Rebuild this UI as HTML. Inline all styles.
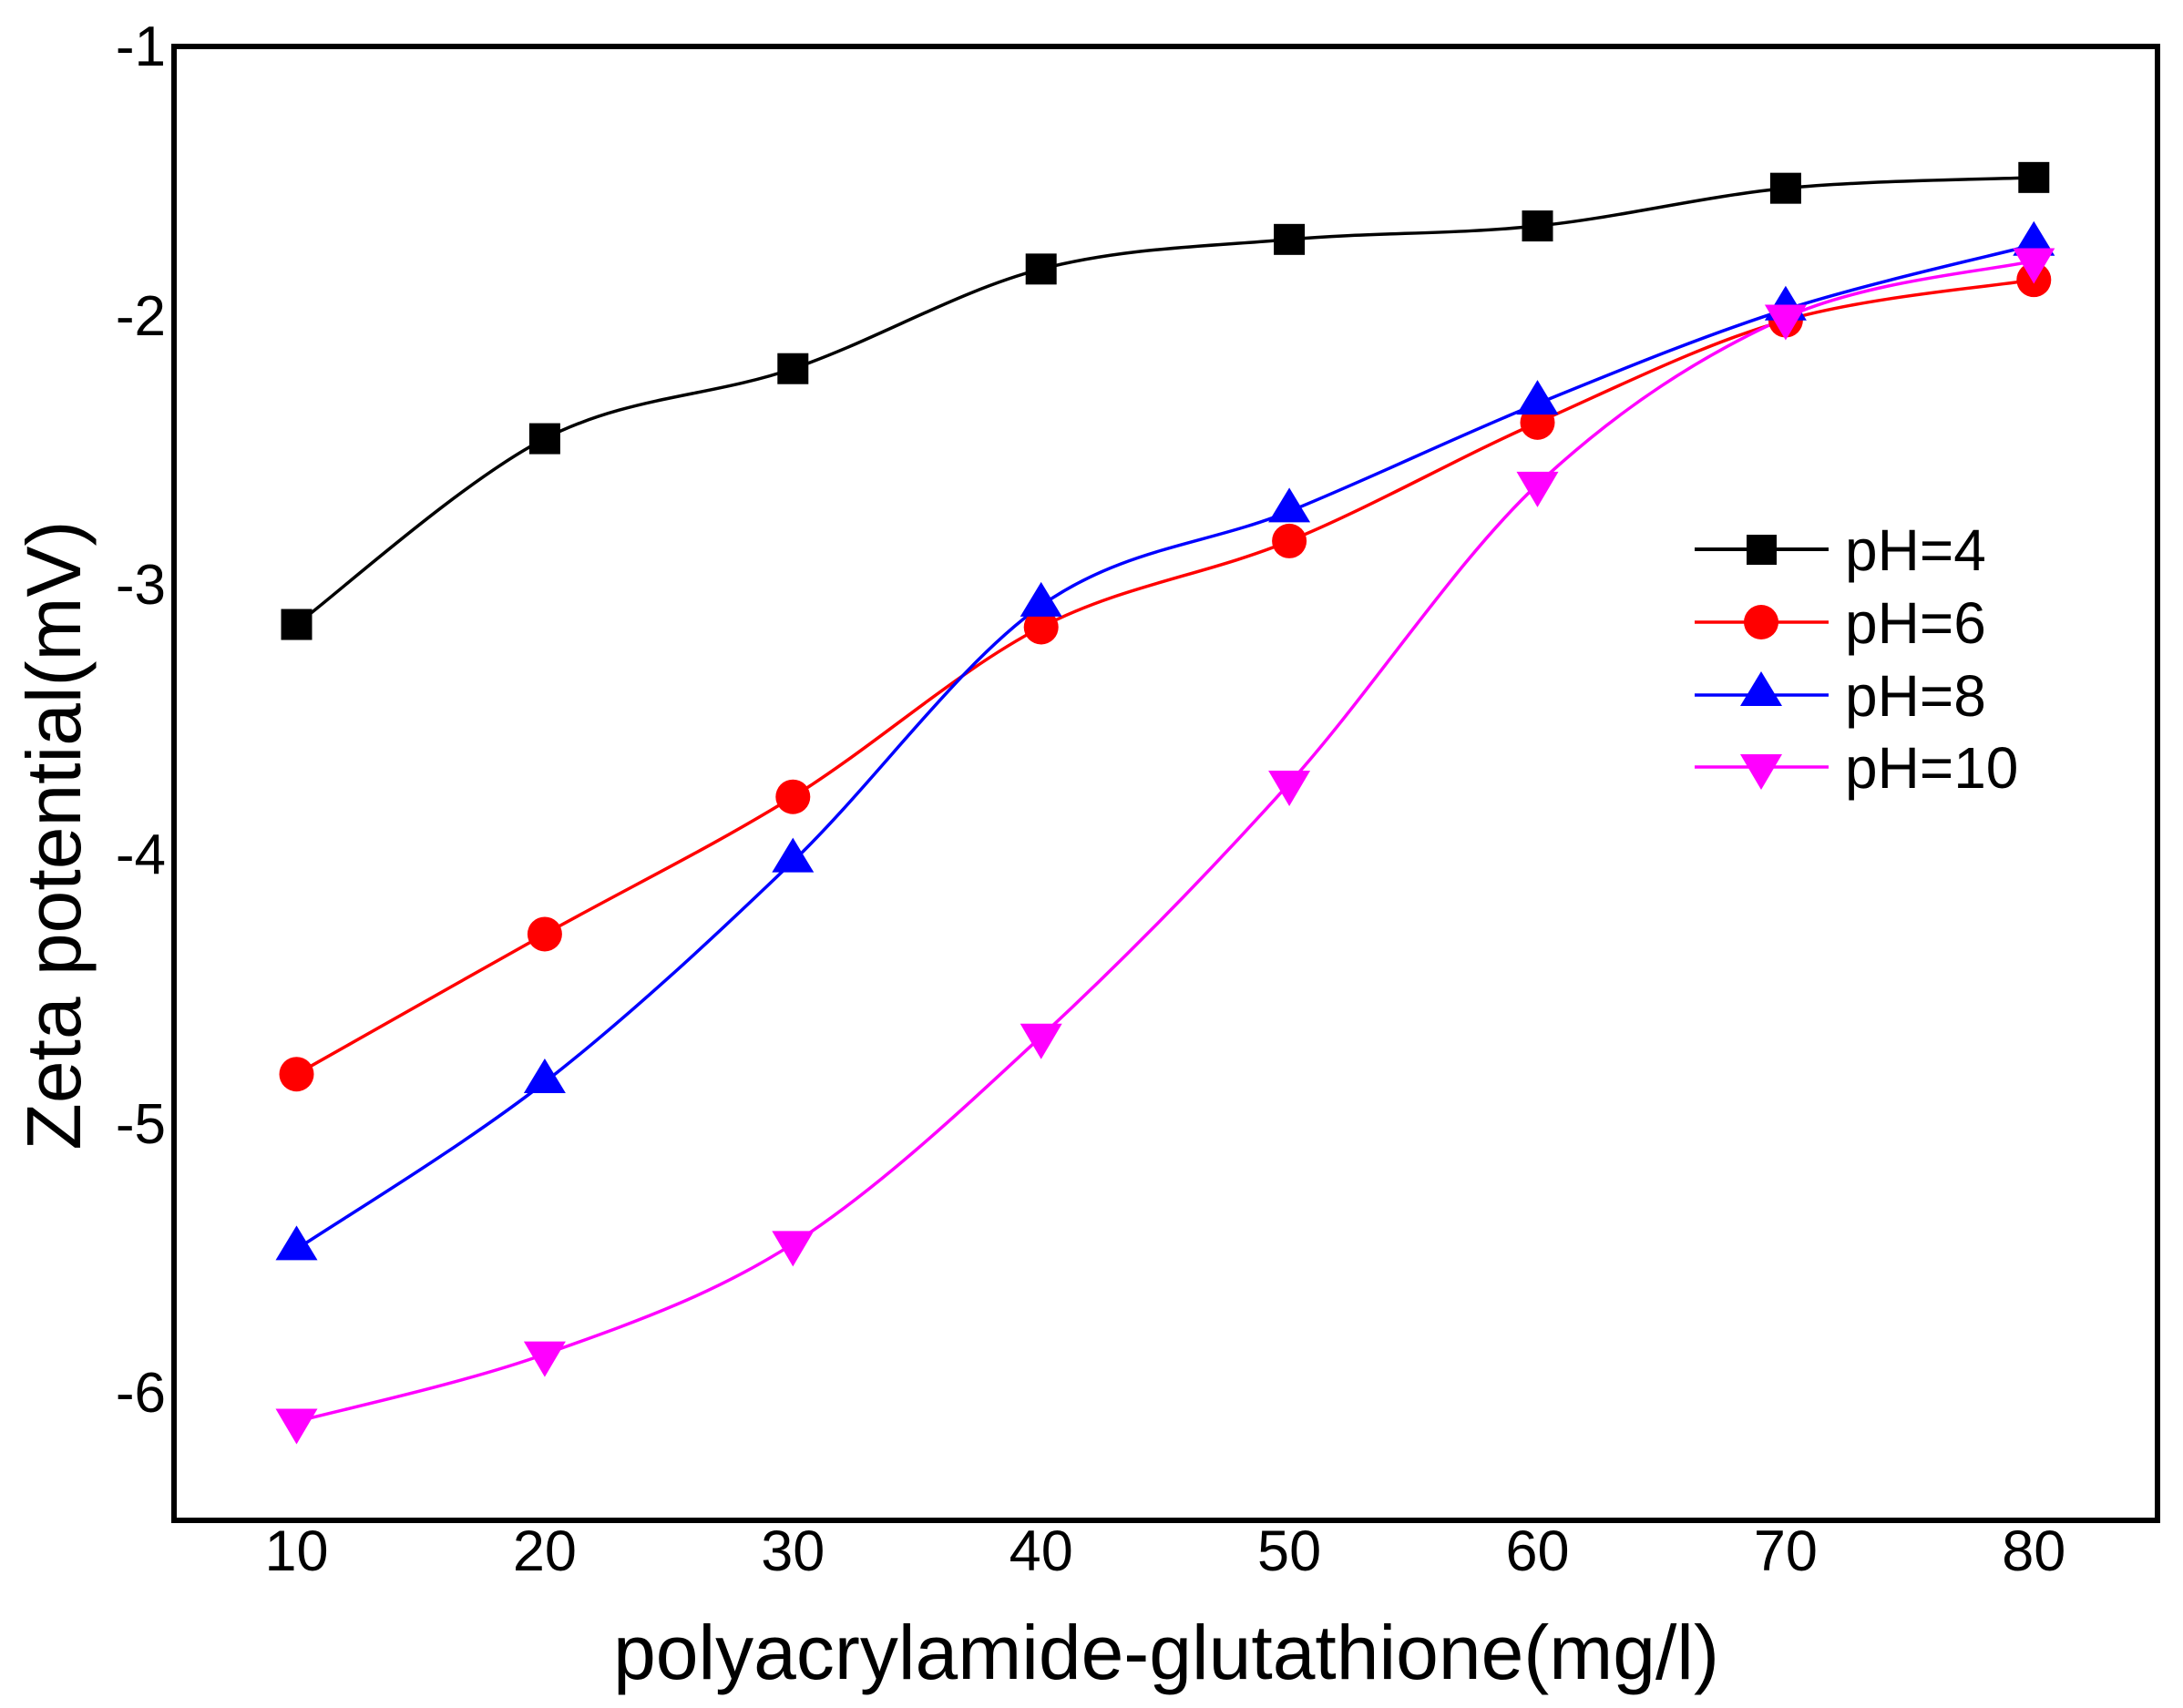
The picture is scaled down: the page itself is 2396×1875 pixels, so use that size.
<!DOCTYPE html>
<html><head><meta charset="utf-8"><style>
html,body{margin:0;padding:0;background:#fff;}
svg{display:block;font-family:"Liberation Sans",Arial,sans-serif;}
</style></head><body>
<svg id="s" width="2396" height="1875" viewBox="0 0 2396 1875" xmlns="http://www.w3.org/2000/svg">
<rect x="0" y="0" width="2396" height="1875" fill="#fff"/>
<g id="curves"></g>
<rect x="191" y="51" width="2177" height="1618" fill="none" stroke="#000" stroke-width="6"/>
<g font-size="62" fill="#000" text-anchor="end">
<text x="182" y="72">-1</text>
<text x="182" y="368">-2</text>
<text x="182" y="663">-3</text>
<text x="182" y="959">-4</text>
<text x="182" y="1255">-5</text>
<text x="182" y="1550">-6</text>
</g>
<g font-size="63" fill="#000" text-anchor="middle">
<text x="325.5" y="1724">10</text>
<text x="597.9" y="1724">20</text>
<text x="870.3" y="1724">30</text>
<text x="1142.7" y="1724">40</text>
<text x="1415.1" y="1724">50</text>
<text x="1687.5" y="1724">60</text>
<text x="1959.9" y="1724">70</text>
<text x="2232.3" y="1724">80</text>
</g>
<text x="1280" y="1843" font-size="84" text-anchor="middle" fill="#000">polyacrylamide-glutathione(mg/l)</text>
<text transform="translate(88,917) rotate(-90)" font-size="84" text-anchor="middle" fill="#000">Zeta potential(mV)</text>
<g id="legend" font-size="64" fill="#000">
<line x1="1860" y1="603" x2="2007" y2="603" stroke="#000" stroke-width="4"/>
<rect x="1917" y="587" width="33" height="33" fill="#000"/>
<text x="2025" y="626">pH=4</text>
<line x1="1860" y1="683" x2="2007" y2="683" stroke="#f00" stroke-width="3.5"/>
<circle cx="1933" cy="683" r="19" fill="#f00"/>
<text x="2025" y="706">pH=6</text>
<line x1="1860" y1="763" x2="2007" y2="763" stroke="#00f" stroke-width="3.5"/>
<polygon points="1933,737 1956,775 1910,775" fill="#00f"/>
<text x="2025" y="786">pH=8</text>
<line x1="1860" y1="842" x2="2007" y2="842" stroke="#f0f" stroke-width="3.5"/>
<polygon points="1910,828 1956,828 1933,867" fill="#f0f"/>
<text x="2025" y="865">pH=10</text>
</g>
</svg>
<script>
(function(){
var x0=325.5,dx=272.4;
function Y(v){return 50+(-1-v)*295.6;}
var series=[
{c:"#000",m:"sq",d:[-3.15,-2.46,-2.20,-1.83,-1.72,-1.67,-1.53,-1.49]},
{c:"#f00",m:"ci",d:[-4.82,-4.30,-3.79,-3.16,-2.84,-2.40,-2.02,-1.87]},
{c:"#00f",m:"up",d:[-5.47,-4.85,-4.03,-3.08,-2.73,-2.33,-1.98,-1.74]},
{c:"#f0f",m:"dn",d:[-6.11,-5.86,-5.45,-4.68,-3.74,-2.63,-2.01,-1.80]}];
var g=document.getElementById("curves"),h="";
series.forEach(function(s){
 var p=s.d.map(function(v,i){return [x0+i*dx,Y(v)];});
 var d="M"+p[0][0]+","+p[0][1];
 for(var i=0;i<p.length-1;i++){
  var a=p[Math.max(i-1,0)],b=p[i],c=p[i+1],e=p[Math.min(i+2,p.length-1)];
  var c1=[b[0]+(c[0]-a[0])/6,b[1]+(c[1]-a[1])/6],c2=[c[0]-(e[0]-b[0])/6,c[1]-(e[1]-b[1])/6];
  d+=" C"+c1+" "+c2+" "+c;
 }
 h+='<path d="'+d+'" fill="none" stroke="'+s.c+'" stroke-width="3.5"/>';
});
series.forEach(function(s){
 s.d.forEach(function(v,i){
  var x=x0+i*dx,y=Y(v);
  if(s.m=="sq")h+='<rect x="'+(x-17)+'" y="'+(y-17)+'" width="34" height="34" fill="#000"/>';
  else if(s.m=="ci")h+='<circle cx="'+x+'" cy="'+y+'" r="19" fill="#f00"/>';
  else if(s.m=="up")h+='<polygon points="'+x+','+(y-26)+' '+(x+23)+','+(y+12)+' '+(x-23)+','+(y+12)+'" fill="#00f"/>';
  else h+='<polygon points="'+(x-23)+','+(y-14)+' '+(x+23)+','+(y-14)+' '+x+','+(y+25)+'" fill="#f0f"/>';
 });
});
g.innerHTML=h;
})();
</script>
</body></html>
